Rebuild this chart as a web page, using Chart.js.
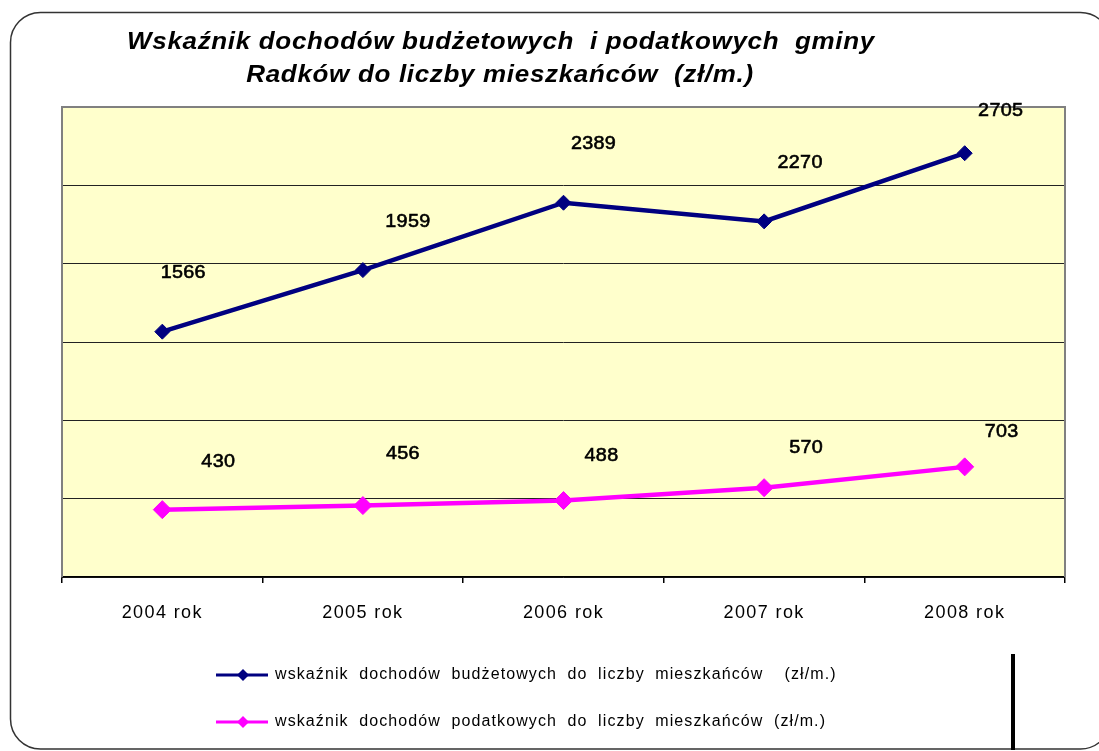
<!DOCTYPE html>
<html>
<head>
<meta charset="utf-8">
<script src="https://cdn.jsdelivr.net/npm/chart.js@4"></script>
<style>
  html, body { margin: 0; padding: 0; background: #fff; }
  #wrap { width: 1099px; height: 751px; position: relative; }
</style>
</head>
<body>
<div id="wrap"><canvas id="chart1" width="1099" height="751"></canvas></div>
<script>
// ===== Dane =====
const lata = ['2004 rok', '2005 rok', '2006 rok', '2007 rok', '2008 rok'];
const budzetowe = [1566, 1959, 2389, 2270, 2705];
const podatkowe = [430, 456, 488, 570, 703];
const tytul = ['Wskaźnik dochodów budżetowych  i podatkowych  gminy', 'Radków do liczby mieszkańców  (zł/m.)'];
const etykiety = ['wskaźnik dochodów budżetowych do liczby mieszkańców  (zł/m.)',
                  'wskaźnik dochodów podatkowych do liczby mieszkańców (zł/m.)'];

// przesunięcia etykiet wartości (px), jak w oryginale
const przesuniecia = [
  [[21, -59], [45, -48], [30, -59], [36, -59], [36, -42]],
  [[56, -48], [40, -52], [38, -45], [42, -40], [37, -35]]
];

const FONT = '"Liberation Sans", Arial, sans-serif';

function diament(ctx, x, y, r, color) {
  ctx.beginPath();
  ctx.moveTo(x - r, y); ctx.lineTo(x, y - r); ctx.lineTo(x + r, y); ctx.lineTo(x, y + r);
  ctx.closePath();
  ctx.fillStyle = color; ctx.fill();
}

// tekst rozciągnięty poziomo (jak w oryginale)
function szerokiTekst(ctx, txt, x, y, sx, obrys) {
  ctx.save();
  ctx.translate(x, y);
  ctx.scale(sx, 1);
  ctx.fillText(txt, 0, 0);
  if (obrys) { ctx.lineWidth = obrys; ctx.strokeStyle = ctx.fillStyle; ctx.strokeText(txt, 0, 0); }
  ctx.restore();
}

const ozdoby = {
  id: 'ozdoby',
  beforeDraw(chart) {
    const { ctx, chartArea: a } = chart;
    ctx.save();
    // ramka zewnętrzna
    ctx.strokeStyle = '#333'; ctx.lineWidth = 1.5;
    ctx.beginPath();
    ctx.roundRect(10.5, 12.5, 1100, 736.5, 30);
    ctx.stroke();
    // tło wykresu
    ctx.fillStyle = '#FFFFCC';
    ctx.fillRect(a.left, a.top, a.right - a.left, a.bottom - a.top);
    ctx.restore();
    ctx.letterSpacing = '1.4px';
  },
  beforeDatasetsDraw(chart) {
    const { ctx, chartArea: a } = chart;
    ctx.save();
    ctx.letterSpacing = '0px';
    ctx.strokeStyle = '#808080'; ctx.lineWidth = 2;
    ctx.beginPath();
    ctx.moveTo(a.left, a.bottom); ctx.lineTo(a.left, a.top);
    ctx.lineTo(a.right, a.top); ctx.lineTo(a.right, a.bottom);
    ctx.stroke();
    ctx.restore();
  },
  afterDatasetsDraw(chart) {
    const { ctx } = chart;
    ctx.save();
    ctx.letterSpacing = '0.3px';
    ctx.font = '19px ' + FONT;
    ctx.fillStyle = '#000';
    ctx.textAlign = 'center'; ctx.textBaseline = 'middle';
    chart.data.datasets.forEach((ds, di) => {
      chart.getDatasetMeta(di).data.forEach((pt, i) => {
        const [dx, dy] = przesuniecia[di][i];
        szerokiTekst(ctx, String(ds.data[i]), pt.x + dx, pt.y + dy, 1.04, 0.6);
      });
    });
    ctx.restore();
  },
  afterDraw(chart) {
    const { ctx } = chart;
    ctx.save();
    // tytuł
    ctx.font = 'italic bold 23px ' + FONT;
    ctx.fillStyle = '#000';
    ctx.textAlign = 'center'; ctx.textBaseline = 'middle';
    ctx.letterSpacing = '0.6px';
    szerokiTekst(ctx, tytul[0], 501, 43, 1.13);
    szerokiTekst(ctx, tytul[1], 500, 76, 1.13);
    // legenda
    ctx.letterSpacing = '1.1px';
    ctx.wordSpacing = '5px';
    ctx.font = '16px ' + FONT;
    ctx.textAlign = 'left';
    chart.data.datasets.forEach((ds, di) => {
      const y = 675 + di * 47;
      ctx.strokeStyle = ds.borderColor; ctx.lineWidth = 3;
      ctx.beginPath(); ctx.moveTo(216, y); ctx.lineTo(268, y); ctx.stroke();
      diament(ctx, 243, y, 6, ds.borderColor);
      ctx.fillStyle = '#000';
      ctx.fillText(ds.label, 275, y);
    });
    // pionowa kreska przy legendzie
    ctx.fillStyle = '#000';
    ctx.fillRect(1011, 654, 4, 96);
    ctx.restore();
  }
};

new Chart(document.getElementById('chart1').getContext('2d'), {
  type: 'line',
  data: {
    labels: lata,
    datasets: [
      { label: etykiety[0], data: budzetowe, borderColor: '#000080', backgroundColor: '#000080',
        borderWidth: 4.5, pointStyle: 'rectRot', pointRadius: 7.5, pointHoverRadius: 7.5, pointBorderWidth: 1 },
      { label: etykiety[1], data: podatkowe, borderColor: '#FF00FF', backgroundColor: '#FF00FF',
        borderWidth: 4.5, pointStyle: 'rectRot', pointRadius: 9, pointHoverRadius: 9, pointBorderWidth: 1 }
    ]
  },
  options: {
    responsive: false, animation: false,
    layout: { padding: { left: 62, top: 107, right: 34, bottom: 0 } },
    plugins: { legend: { display: false }, title: { display: false }, tooltip: { enabled: false } },
    scales: {
      x: {
        offset: true,
        grid: { offset: true, drawOnChartArea: false, drawTicks: true, tickLength: 6, color: '#000', lineWidth: 1.5 },
        border: { display: true, color: '#000', width: 1.5 },
        ticks: { color: '#000', font: { family: FONT, size: 18 }, padding: 19, maxRotation: 0 },
        afterFit(s) { s.height = 174; }
      },
      y: {
        min: 0, max: 3000,
        ticks: { display: false, stepSize: 500 },
        grid: { color: '#222', lineWidth: 1, drawTicks: false },
        border: { display: false },
        afterFit(s) { s.width = 0; }
      }
    }
  },
  plugins: [ozdoby]
});
</script>
</body>
</html>
